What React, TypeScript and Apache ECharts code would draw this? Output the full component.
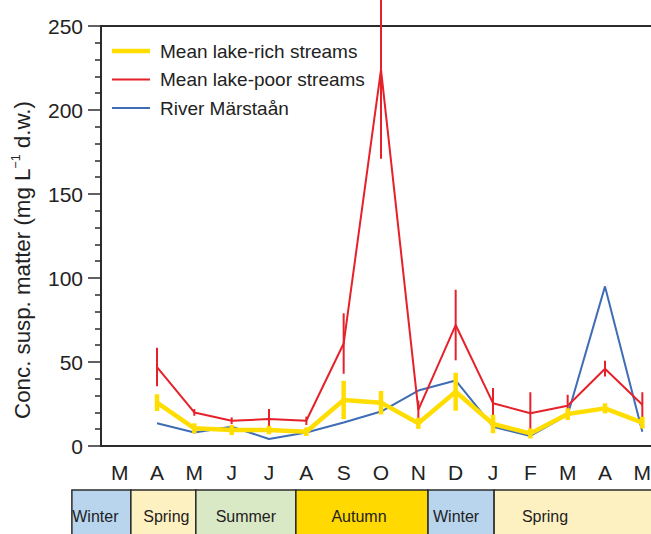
import React, { useEffect, useRef } from "react";
import * as echarts from "echarts";

// Months of the sampling period (March to May of the following year)
const MONTHS = ["M", "A", "M", "J", "J", "A", "S", "O", "N", "D", "J", "F", "M", "A", "M"];

// Mean concentrations (mg L-1 d.w.) and their error half-widths
const LAKE_RICH = [null, 25.8, 10.5, 9.5, 9.5, 8.5, 27.4, 25.8, 13.5, 32.3, 13.1, 7.5, 19, 22.4, 13.9];
const LAKE_RICH_ERR = [null, 5, 3, 3, 2.5, 2.5, 11.4, 7, 3.3, 11.3, 5.5, 3, 3.5, 3, 3.5];
const LAKE_POOR = [null, 47, 20, 15, 16, 15, 61, 224, 21.5, 72, 25.5, 19.5, 24, 46, 24.5];
const LAKE_POOR_ERR = [null, 11.5, 2, 2, 6, 2.5, 18, 53, 5.5, 21, 9, 12.5, 6.5, 4.7, 7.5];
const MARSTAAN = [null, 13.5, 8, 11.5, 4.2, 8, 14, 20.5, 33, 39, 11.5, 6, 18.5, 95, 8.5];

// Seasons and their boundaries, in month units from the first month's start
const SEASONS = ["Winter", "Spring", "Summer", "Autumn", "Winter", "Spring"];
const SEASON_BOUNDS = [-0.78, 0.8, 2.54, 5.22, 8.76, 10.53, 15.4];

const Y_TICKS = [0, 50, 100, 150, 200, 250];

const FONT = "'Liberation Sans', Arial, Helvetica, sans-serif";
const VIEW_W = 651;
const CHART_W = 661; // plot runs a little past the visible right edge
const HEIGHT = 534;
const GRID_LEFT = 101;
const GRID_TOP = 26;
const GRID_BOTTOM = 88;
const GRID_RIGHT = 0;

const C_RICH = "#ffdd00";
const C_POOR = "#e62129";
const C_RIVER = "#3f6db5";
const SEASON_FILL: Record<string, string> = {
  Winter: "#b9d5ee",
  Spring: "#fef1c1",
  Summer: "#dae9c5",
  Autumn: "#ffd900",
};
// horizontal nudge of each season label from its box centre, px
const SEASON_LABEL_SHIFT = [-6, 3, 0, -3, -5, -40];

const LEGEND = [
  { name: "Mean lake-rich streams", color: C_RICH, width: 4.5 },
  { name: "Mean lake-poor streams", color: C_POOR, width: 2 },
  { name: "River Märstaån", color: C_RIVER, width: 2 },
];

function errorData(vals: (number | null)[], errs: (number | null)[]) {
  const out: number[][] = [];
  vals.forEach((v, i) => {
    const e = errs[i];
    if (v != null && e != null) out.push([i, v - e, v + e]);
  });
  return out;
}

function errorSeries(name: string, data: number[][], color: string, width: number, z: number) {
  return {
    type: "custom",
    name,
    clip: false,
    z,
    silent: true,
    encode: { x: 0, y: [1, 2] },
    data,
    renderItem: (_p: any, api: any) => {
      const lo = api.coord([api.value(0), api.value(1)]);
      const hi = api.coord([api.value(0), api.value(2)]);
      return {
        type: "line",
        shape: { x1: lo[0], y1: lo[1], x2: hi[0], y2: hi[1] },
        style: { stroke: color, lineWidth: width },
      };
    },
  };
}

export default function App() {
  const ref = useRef<HTMLDivElement>(null);

  useEffect(() => {
    if (!ref.current) return;
    const chart = echarts.init(ref.current, null, { renderer: "svg" });

    const plotW = CHART_W - GRID_LEFT - GRID_RIGHT;
    const band = plotW / MONTHS.length;
    const boxTop = 490;

    const seasonGraphics: any[] = [];
    SEASONS.forEach((s, i) => {
      const x0 = GRID_LEFT + SEASON_BOUNDS[i] * band;
      const x1 = GRID_LEFT + SEASON_BOUNDS[i + 1] * band;
      seasonGraphics.push({
        type: "rect",
        shape: { x: x0, y: boxTop, width: x1 - x0, height: HEIGHT - boxTop + 10 },
        style: { fill: SEASON_FILL[s], stroke: "#2b2b2b", lineWidth: 1.5 },
        z: 1,
      });
      seasonGraphics.push({
        type: "text",
        x: (x0 + x1) / 2 + SEASON_LABEL_SHIFT[i],
        y: 516,
        style: {
          text: s,
          fontSize: 16,
          fontFamily: FONT,
          fill: "#222",
          align: "center",
          verticalAlign: "middle",
        },
        z: 2,
      });
    });

    // legend drawn as plain line samples with labels
    const legendGraphics: any[] = [];
    LEGEND.forEach((item, i) => {
      const y = 51 + i * 28.5;
      legendGraphics.push({
        type: "line",
        shape: { x1: 112, y1: y, x2: 150, y2: y },
        style: { stroke: item.color, lineWidth: item.width },
        z: 5,
      });
      legendGraphics.push({
        type: "text",
        x: 160,
        y,
        style: {
          text: item.name,
          fontSize: 19,
          fontFamily: FONT,
          fill: "#222",
          align: "left",
          verticalAlign: "middle",
        },
        z: 5,
      });
    });

    chart.setOption({
      animation: false,
      backgroundColor: "#ffffff",
      grid: {
        left: GRID_LEFT,
        top: GRID_TOP,
        bottom: GRID_BOTTOM,
        right: GRID_RIGHT,
        show: true,
        borderColor: "#2b2b2b",
        borderWidth: 2,
        backgroundColor: "transparent",
      },
      xAxis: {
        type: "category",
        data: MONTHS,
        boundaryGap: true,
        axisLine: { lineStyle: { color: "#2b2b2b", width: 2 } },
        axisTick: { length: 11, lineStyle: { color: "#2b2b2b", width: 1.5 } },
        axisLabel: { fontSize: 21, fontFamily: FONT, color: "#222", margin: 16, interval: 0 },
        splitLine: { show: false },
      },
      yAxis: {
        type: "value",
        min: Y_TICKS[0],
        max: Y_TICKS[Y_TICKS.length - 1],
        interval: 50,
        axisLine: { show: true, lineStyle: { color: "#2b2b2b", width: 2 } },
        axisTick: { show: true, length: 13, lineStyle: { color: "#2b2b2b", width: 1.5 } },
        minorTick: { show: true, splitNumber: 5, length: 6, lineStyle: { color: "#2b2b2b", width: 1.5 } },
        axisLabel: { fontSize: 21, fontFamily: FONT, color: "#222", margin: 18 },
        splitLine: { show: false },
      },
      graphic: [
        {
          type: "text",
          x: 22,
          y: 260,
          rotation: Math.PI / 2,
          style: {
            text: "{a|Conc. susp. matter (mg L}{s|−1}{a| d.w.)}",
            align: "center",
            verticalAlign: "middle",
            fill: "#222",
            rich: {
              a: { fontSize: 22.3, fontFamily: FONT, fill: "#222", lineHeight: 26 },
              s: { fontSize: 12.5, fontFamily: FONT, fill: "#222", verticalAlign: "top", lineHeight: 26 },
            },
          },
        },
        ...legendGraphics,
        ...seasonGraphics,
      ],
      series: [
        {
          type: "line",
          name: "River Märstaån",
          data: MARSTAAN,
          symbol: "none",
          z: 2,
          lineStyle: { color: C_RIVER, width: 2 },
          itemStyle: { color: C_RIVER },
        },
        {
          type: "line",
          name: "Mean lake-poor streams",
          data: LAKE_POOR,
          symbol: "none",
          z: 3,
          lineStyle: { color: C_POOR, width: 2 },
          itemStyle: { color: C_POOR },
        },
        errorSeries("poor-err", errorData(LAKE_POOR, LAKE_POOR_ERR), C_POOR, 2, 3),
        {
          type: "line",
          name: "Mean lake-rich streams",
          data: LAKE_RICH,
          symbol: "none",
          z: 4,
          lineStyle: { color: C_RICH, width: 4.5 },
          itemStyle: { color: C_RICH },
        },
        errorSeries("rich-err", errorData(LAKE_RICH, LAKE_RICH_ERR), C_RICH, 4.5, 4),
      ],
    });

    return () => chart.dispose();
  }, []);

  return (
    <div
      style={{
        position: "absolute",
        left: 0,
        top: 0,
        width: VIEW_W,
        height: HEIGHT,
        overflow: "hidden",
      }}
    >
      <div ref={ref} style={{ width: CHART_W, height: HEIGHT }} />
    </div>
  );
}
